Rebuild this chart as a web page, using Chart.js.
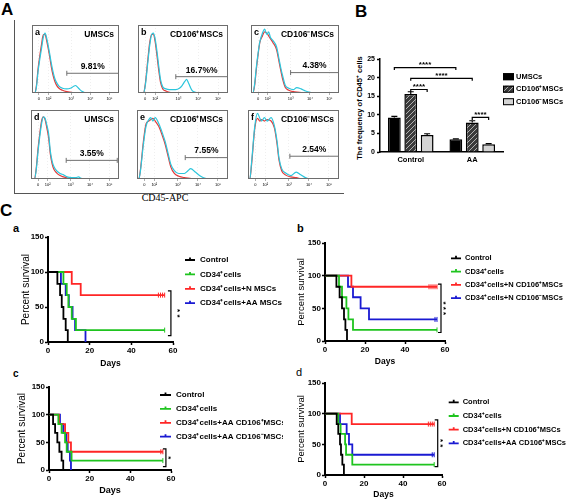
<!DOCTYPE html>
<html lang="en">
<head>
<meta charset="UTF-8">
<meta name="viewport" content="width=device-width, initial-scale=1.0">
<title>CD45 expression and survival</title>
<script src="https://cdn.jsdelivr.net/npm/chart.js"></script>
<style>
  body { margin: 0; background: #fff; }
  #page { position: relative; width: 566px; height: 499px; overflow: hidden; background: #fff;
          font-family: Arial, "Liberation Sans", sans-serif; color: #000; }
  #page canvas { position: absolute; }
  .lbl { position: absolute; line-height: 1; white-space: nowrap; font-weight: bold; }
  .panel { font-size: 17px; }
  .sub { font-size: 11px; }
  #frameA { position: absolute; left: 14px; top: 20px; width: 329px; height: 173px;
            border-left: 1px solid #555; border-bottom: 1px solid #555; }
  #apc { position: absolute; left: 165px; top: 192px; transform: translateX(-50%); line-height: 1;
         font: 10px "Liberation Serif", "Times New Roman", serif; white-space: nowrap; }
  #freqTitle { position: absolute; left: 360px; top: 108px; line-height: 1;
               transform: translate(-50%, -50%) rotate(-90deg);
               font-size: 7.5px; font-weight: bold; white-space: nowrap; }
</style>
</head>
<body>
<div id="page">
  <div class="lbl panel" style="left:1px;top:1px">A</div>
  <div class="lbl panel" style="left:355px;top:3px">B</div>
  <div class="lbl panel" style="left:0px;top:202px">C</div>
  <div class="lbl sub" style="left:13px;top:223px">a</div>
  <div class="lbl sub" style="left:297px;top:223px">b</div>
  <div class="lbl sub" style="left:13px;top:369px;font-size:10px">c</div>
  <div class="lbl sub" style="left:296px;top:367px;font-weight:normal">d</div>
  <div id="frameA"></div>
  <div id="apc">CD45-APC</div>
  <div id="freqTitle">The frequency of CD45⁺ cells</div>
</div>

<script>
// ---------- A: flow histograms (x = % of plot width, y = % of plot height) ----------
const histTickPos = [8, 19, 45, 67, 89];
const histTickLabels = ['0', '10²', '10³', '10⁴', '10⁵'];
const histLetters = ['a', 'b', 'c', 'd', 'e', 'f'];
const histNames = ['UMSCs', 'CD106⁺MSCs', 'CD106⁻MSCs', 'UMSCs', 'CD106⁺MSCs', 'CD106⁻MSCs'];
const histPercents = ['9.81%', '16.7%%', '4.38%', '3.55%', '7.55%', '2.54%'];
const histGates = [[40, 99.5, 29], [42, 99.5, 24], [45, 99.5, 30], [40, 98, 27], [53, 99.5, 31], [46, 99.5, 33]];

const cyanA = [[0,0],[3,0],[5,8],[7,32],[9,50],[11,66],[13,82],[15,88],[17,80],[20,60],[22,45],[24,32],[26,22],[28,16],[31,10],[35,7],[40,6],[44,7],[48,10],[50,11],[52,9],[55,5],[58,2],[62,0],[100,0]];
const redA  = [[0,0],[3,0],[5,10],[7,36],[9,55],[11,72],[13,86],[15,86],[17,76],[20,56],[22,40],[24,27],[26,18],[28,12],[31,7],[35,4],[40,2],[45,1],[50,0],[100,0]];
const cyanB = [[0,0],[6,0],[8,10],[11,46],[13,70],[15,85],[17,88],[19,80],[21,62],[23,40],[25,20],[27.5,9],[31,6],[35,5],[42,5],[46,7],[49,11],[52,17],[54,20],[56,15],[58,9],[60,4],[64,1],[68,0],[100,0]];
const redB  = [[0,0],[6,0],[8,12],[11,50],[13,74],[15,86],[17,86],[19,76],[21,56],[23,34],[25,16],[27.5,6],[31,3],[35,1],[40,0],[100,0]];
const cyanC = [[0,0],[2,0],[4,12],[6,37],[8,58],[10,75],[13,88],[15.5,94],[18,86],[20,90],[22,82],[25,77],[29,68],[32,49],[34,36],[36,25],[39,11],[43,7],[48,5],[52,8],[57,6],[62,3],[67,1],[72,0],[100,0]];
const redC  = [[0,0],[2,0],[4,10],[6,34],[8,56],[10,74],[13,84],[15.5,90],[18,88],[20,84],[22,80],[25,74],[29,64],[32,45],[34,32],[36,20],[39,8],[43,4],[48,2],[55,1],[60,0],[100,0]];
const cyanD = [[0,0],[4,0],[6,14],[8,40],[10,62],[12,80],[14,90],[16,88],[18,78],[20,66],[22,40],[24,26],[26,18],[29,12],[33,8],[37,6],[41,3],[46,2],[51,2],[54,3],[57,1],[61,0],[100,0]];
const redD  = [[0,0],[4,0],[6,16],[8,44],[10,66],[12,84],[14,90],[16,86],[18,74],[20,60],[22,36],[24,22],[26,14],[29,9],[33,5],[37,3],[42,1],[47,0],[100,0]];
const cyanE = [[0,0],[2,0],[4,14],[7,50],[10,77],[13,86],[15,89],[17.5,84],[20,89],[24,80],[27.5,68],[31,54],[34,38],[37,22],[41,12],[46,8],[52,8],[56,12],[59,15],[64,10],[70,4],[75,1],[80,0],[100,0]];
const redE  = [[0,0],[2,0],[4,16],[7,54],[10,80],[13,84],[15,86],[17.5,88],[20,84],[24,76],[27.5,64],[31,50],[34,34],[37,18],[41,8],[46,4],[52,2],[58,1],[64,0],[100,0]];
const cyanF = [[0,0],[2,0],[4,25],[7.5,77],[10.4,95],[13,88],[15,84],[18,89],[21,84],[25.4,89],[29,77],[32,54],[34,31],[37,15],[41,9],[47,5],[53,10],[58,6],[63,2],[68,0],[100,0]];
const redF  = [[0,0],[2,0],[4,22],[7.5,74],[10.4,88],[13,84],[15,86],[18,84],[21,86],[25.4,84],[29,74],[32,50],[34,28],[37,12],[41,6],[47,3],[53,2],[60,0],[100,0]];

// ---------- B: frequency of CD45+ cells ----------
const groups = ['Control', 'AA'];
const cellTypes = ['UMSCs', 'CD106⁺MSCs', 'CD106⁻MSCs'];
const freqMean = [[9.3, 3.4], [15.6, 7.9], [4.6, 2.1]];
const freqSem = [[0.3, 0.15], [0.6, 0.5], [0.3, 0.15]];
// [dataset, group, dataset, group, height]
const sigPairs = [[0, 0, 0, 1, 22.7], [1, 0, 1, 1, 19.8], [1, 0, 2, 0, 16.8], [1, 1, 2, 1, 9.3]];

// ---------- C: survival curves, [day, percent] ----------
const kmDayTicks = [0, 20, 40, 60];
const kmPctTicks = [0, 50, 100, 150];

const labelsA = ['Control', 'CD34⁺cells', 'CD34⁺cells+N MSCs', 'CD34⁺cells+AA MSCs'];
const aControl = [[0,100],[4.5,83],[5.8,67],[6.6,50],[7.4,33],[8.5,17],[9.5,0]];
const aCd34 = [[0,100],[7.4,83],[9,67],[9.8,50],[11.4,33],[13.4,17],[56,17]];
const aNmsc = [[0,100],[11.4,83],[15.7,67],[56,67]];
const aAAmsc = [[0,100],[6.2,83],[8.5,67],[10,50],[11.8,33],[13,17],[18,0]];
const aCd34Cens = [56];
const aNmscCens = [53, 54, 55, 56];
const aBracket = [59, 73, 9];

const labelsB = ['Control', 'CD34⁺cells', 'CD34⁺cells+N CD106⁺MSCs', 'CD34⁺cells+N CD106⁻MSCs'];
const bControl = [[0,100],[5.7,83],[7.3,67],[8.5,50],[9.5,33],[10.2,17],[11,0]];
const bCd34 = [[0,100],[7,83],[8.5,67],[10.7,50],[11.7,33],[14,17],[56,17]];
const bPos = [[0,100],[13.2,83],[56,83]];
const bNeg = [[0,100],[11.5,83],[14,67],[17.8,50],[22,33],[56,33]];
const bCd34Cens = [56];
const bPosCens = [52, 53, 54, 55, 56];
const bNegCens = [55, 56];
const bBracket = [58, 87, 13];

const labelsC = ['Control', 'CD34⁺cells', 'CD34⁺cells+AA CD106⁺MSCs', 'CD34⁺cells+AA CD106⁻MSCs'];
const cControl = [[0,100],[2,83],[3,67],[4.1,50],[5.1,33],[6.2,17],[7,0]];
const cCd34 = [[0,100],[4.6,83],[6.2,67],[7.9,50],[8.7,33],[11.1,17],[56,17]];
const cPos = [[0,100],[4.9,83],[7.9,67],[9.5,50],[10.8,33],[56,33]];
const cNeg = [[0,100],[5.4,83],[7,67],[8.5,50],[9.2,33],[10.3,17],[10.8,0]];
const cCd34Cens = [56];
const cPosCens = [55, 56];
const cBracket = [57.5, 38, 6];

const labelsD = ['Control', 'CD34⁺cells', 'CD34⁺cells+N CD106⁺MSCs', 'CD34⁺cells+AA CD106⁺MSCs'];
const dControl = [[0,100],[6,83],[6.8,67],[7.7,50],[8.2,33],[8.9,17],[9.7,0]];
const dCd34 = [[0,100],[6.8,83],[8,67],[10.3,50],[10.8,33],[14,17],[56,17]];
const dNPos = [[0,100],[13.7,83],[56,83]];
const dAAPos = [[0,100],[7.7,83],[11.1,67],[12.3,50],[14,33],[56,33]];
const dCd34Cens = [56];
const dNPosCens = [53, 54, 55, 56];
const dAAPosCens = [55, 56];
const dBracket = [57.8, 90, 13.5];

const kmSeries = [[aControl, aCd34, aNmsc, aAAmsc], [bControl, bCd34, bPos, bNeg],
                  [cControl, cCd34, cPos, cNeg], [dControl, dCd34, dNPos, dAAPos]];
const kmCensor = [[[], aCd34Cens, aNmscCens, []], [[], bCd34Cens, bPosCens, bNegCens],
                  [[], cCd34Cens, cPosCens, []], [[], dCd34Cens, dNPosCens, dAAPosCens]];
const kmLabels = [labelsA, labelsB, labelsC, labelsD];
const kmBrackets = [aBracket, bBracket, cBracket, dBracket];
const kmStars = ['* *', '* * *', '*', '* *'];

// ---------- styles / layout ----------
const FONT = 'Arial, "Liberation Sans", sans-serif';
Chart.defaults.font.family = FONT;
Chart.defaults.color = '#000';
Chart.defaults.animation = false;
Chart.defaults.events = [];
Chart.defaults.plugins.legend.display = false;
Chart.defaults.plugins.tooltip.enabled = false;

const kmColors = ['#000000', '#1fc41f', '#ff2626', '#1a1ad2'];
const histBoxes = [[32, 22, 89, 71], [138, 22, 92, 71], [251, 22, 90, 71],
                   [31, 107, 90, 72], [137, 107, 93, 72], [248, 107, 93, 72]];
const histCyan = [cyanA, cyanB, cyanC, cyanD, cyanE, cyanF];
const histRed = [redA, redB, redC, redD, redE, redF];

const kmLayouts = [
  { axisX: 48, top: 237, w: 125, h: 105, edge: 283, pctSize: 10, pctPad: 12, daysSize: 8.5, daysPad: 3,
    legend: { dx: 12, dy: 23, step: 14.4, len: 10, gap: 5, font: 'bold 8px ' + FONT }, starGap: 9 },
  { axisX: 325, top: 243, w: 120, h: 98, edge: 566, pctSize: 9.5, pctPad: 11, daysSize: 8.5, daysPad: 4.2,
    legend: { dx: 6, dy: 15.3, step: 13.3, len: 10, gap: 4, font: 'bold 7.5px ' + FONT }, starGap: 4.5 },
  { axisX: 49, top: 387, w: 122, h: 83, edge: 283, pctSize: 10, pctPad: 7.5, daysSize: 9, daysPad: 3.9,
    legend: { dx: -11, dy: 8, step: 13.9, len: 11, gap: 5, font: 'bold 8px ' + FONT }, starGap: 4.5 },
  { axisX: 325, top: 383, w: 117, h: 92, edge: 566, pctSize: 9.5, pctPad: 10.3, daysSize: 8.5, daysPad: 4.9,
    legend: { dx: 6.7, dy: 19.3, step: 13.7, len: 10, gap: 4, font: 'bold 7.5px ' + FONT }, starGap: 5 }
];

function makeCanvas(left, top, w, h) {
  const c = document.createElement('canvas');
  c.width = w; c.height = h;
  c.style.left = left + 'px';
  c.style.top = top + 'px';
  document.getElementById('page').appendChild(c);
  return c;
}
const toXY = arr => arr.map(p => ({ x: p[0], y: p[1] }));

// frame + labels of one histogram
const histFrame = {
  id: 'histFrame',
  afterDraw(chart, args, o) {
    const { ctx, chartArea: a } = chart;
    const xs = chart.scales.x, ys = chart.scales.y;
    ctx.save();
    ctx.strokeStyle = '#6d6d6d';
    ctx.lineWidth = 1;
    ctx.strokeRect(a.left + 0.5, a.top + 0.5, a.width - 1, a.height - 1);
    ctx.fillStyle = '#000';
    ctx.textBaseline = 'middle';
    ctx.font = 'bold 9px ' + FONT;
    ctx.textAlign = 'left';
    ctx.fillText(o.letter, a.left + 3, a.top + 8);
    ctx.font = 'bold 8.5px ' + FONT;
    ctx.textAlign = 'right';
    ctx.fillText(o.name, a.right - 5, a.top + 9.5);
    ctx.textAlign = 'center';
    ctx.fillText(o.pct, xs.getPixelForValue((o.gate[0] + o.gate[1]) / 2), ys.getPixelForValue(o.gate[2]) - 6.5);
    ctx.restore();
  }
};

// legend drawn at the right of the plot area
const sideLegend = {
  id: 'sideLegend',
  afterDraw(chart, args, o) {
    const { ctx, chartArea: a } = chart;
    ctx.save();
    ctx.font = o.font;
    ctx.textBaseline = 'middle';
    ctx.textAlign = 'left';
    chart.data.datasets.forEach((ds, i) => {
      const x = a.right + o.dx, y = a.top + o.dy + i * o.step;
      if (o.box) {
        ctx.fillStyle = ds.backgroundColor;
        ctx.fillRect(x, y - 3.5, 11, 7);
        ctx.strokeStyle = '#000';
        ctx.lineWidth = 1;
        ctx.strokeRect(x + 0.5, y - 3, 10, 6);
      } else {
        ctx.strokeStyle = ds.borderColor;
        ctx.lineWidth = 1.8;
        ctx.beginPath();
        ctx.moveTo(x, y); ctx.lineTo(x + o.len, y);
        ctx.moveTo(x + o.len / 2, y - 2.5); ctx.lineTo(x + o.len / 2, y);
        ctx.stroke();
      }
      ctx.fillStyle = '#000';
      ctx.fillText(ds.label, x + o.len + o.gap, y);
    });
    ctx.restore();
  }
};

// significance bracket for survival panels
const sigBracket = {
  id: 'sigBracket',
  afterDatasetsDraw(chart, args, o) {
    const { ctx } = chart, xs = chart.scales.x, ys = chart.scales.y;
    const x = xs.getPixelForValue(o.at[0]);
    const y1 = ys.getPixelForValue(o.at[1]), y2 = ys.getPixelForValue(o.at[2]);
    ctx.save();
    ctx.strokeStyle = '#000';
    ctx.lineWidth = 1.2;
    ctx.beginPath();
    ctx.moveTo(x - 3, y1); ctx.lineTo(x, y1); ctx.lineTo(x, y2); ctx.lineTo(x - 3, y2);
    ctx.stroke();
    ctx.translate(x + o.gap - 4.6, (y1 + y2) / 2);
    ctx.rotate(Math.PI / 2);
    ctx.font = 'bold 8px ' + FONT;
    ctx.fillStyle = '#000';
    ctx.textAlign = 'center';
    ctx.fillText(o.text, 0, 0);
    ctx.restore();
  }
};

// error bars + significance brackets for panel B
const barExtras = {
  id: 'barExtras',
  afterDatasetsDraw(chart) {
    const { ctx } = chart, ys = chart.scales.y;
    ctx.save();
    ctx.strokeStyle = '#000';
    ctx.lineWidth = 1.2;
    chart.data.datasets.forEach((ds, i) => {
      chart.getDatasetMeta(i).data.forEach((bar, j) => {
        const y0 = ys.getPixelForValue(ds.data[j]);
        const yTop = ys.getPixelForValue(ds.data[j] + freqSem[i][j]);
        ctx.beginPath();
        ctx.moveTo(bar.x, y0); ctx.lineTo(bar.x, yTop);
        ctx.moveTo(bar.x - 3, yTop); ctx.lineTo(bar.x + 3, yTop);
        ctx.stroke();
      });
    });
    ctx.font = 'bold 8px ' + FONT;
    ctx.fillStyle = '#000';
    ctx.textAlign = 'center';
    sigPairs.forEach(s => {
      const xa = chart.getDatasetMeta(s[0]).data[s[1]].x;
      const xb = chart.getDatasetMeta(s[2]).data[s[3]].x;
      const y = ys.getPixelForValue(s[4]);
      ctx.beginPath();
      ctx.moveTo(xa, y + 2.5); ctx.lineTo(xa, y); ctx.lineTo(xb, y); ctx.lineTo(xb, y + 2.5);
      ctx.stroke();
      ctx.fillText('****', (xa + xb) / 2, y - 0.5);
    });
    ctx.restore();
  }
};

// ---------- A ----------
histBoxes.forEach((b, i) => {
  const yW = 8, xH = 9, padT = 2, padR = 3;
  const cv = makeCanvas(b[0] - yW, b[1] - padT, b[2] + yW + padR, b[3] + padT + xH);
  const g = histGates[i];
  new Chart(cv, {
    type: 'line',
    data: {
      datasets: [
        { data: toXY(histCyan[i]), borderColor: '#2cc6dc', borderWidth: 1.2, pointRadius: 0, cubicInterpolationMode: 'monotone' },
        { data: toXY(histRed[i]), borderColor: '#e23a3a', borderWidth: 1.2, pointRadius: 0, cubicInterpolationMode: 'monotone' },
        { data: [{ x: g[0], y: g[2] }, { x: g[1], y: g[2] }], borderColor: '#707070', borderWidth: 1,
          pointStyle: 'line', rotation: 90, pointRadius: 2.5, pointBorderColor: '#707070', pointBorderWidth: 1 }
      ]
    },
    options: {
      responsive: false,
      layout: { padding: { top: padT, right: padR, left: 0, bottom: 0 } },
      scales: {
        x: {
          type: 'linear', min: 0, max: 100,
          afterBuildTicks: s => { s.ticks = histTickPos.map(v => ({ value: v })); },
          ticks: { font: { size: 4 }, padding: 1, maxRotation: 0, autoSkip: false, callback: (v, k) => histTickLabels[k] },
          grid: { color: '#e4e4e4', lineWidth: 0.6, tickLength: 2, tickColor: '#777' },
          border: { display: false, dash: [1, 2] },
          afterFit: s => { s.height = xH; }
        },
        y: {
          min: 0, max: 100,
          afterBuildTicks: s => { s.ticks = [{ value: 0 }]; },
          ticks: { font: { size: 4 }, padding: 1 },
          grid: { display: false },
          border: { display: false },
          afterFit: s => { s.width = yW; }
        }
      },
      plugins: { histFrame: { letter: histLetters[i], name: histNames[i], pct: histPercents[i], gate: g } }
    },
    plugins: [histFrame]
  });
});

// ---------- B ----------
(function () {
  const yW = 26, xH = 14, padT = 8, padR = 63;
  const cv = makeCanvas(354, 51, 212, padT + 93 + xH);
  const hatch = (() => {
    const c = document.createElement('canvas');
    c.width = 5; c.height = 5;
    const g = c.getContext('2d');
    g.fillStyle = '#3a3a3a'; g.fillRect(0, 0, 5, 5);
    g.strokeStyle = '#b0b0b0'; g.lineWidth = 1;
    g.beginPath();
    g.moveTo(-1, 6); g.lineTo(6, -1);
    g.moveTo(-1, 1); g.lineTo(1, -1);
    g.moveTo(4, 6); g.lineTo(6, 4);
    g.stroke();
    return g.createPattern(c, 'repeat');
  })();
  const fills = ['#000000', hatch, '#d4d4d4'];
  new Chart(cv, {
    type: 'bar',
    data: {
      labels: groups,
      datasets: cellTypes.map((name, i) => ({
        label: name, data: freqMean[i], backgroundColor: fills[i], borderColor: '#000', borderWidth: 1.5,
        categoryPercentage: 0.8, barPercentage: 0.78
      }))
    },
    options: {
      responsive: false,
      layout: { padding: { top: padT, right: padR, left: 0, bottom: 0 } },
      scales: {
        x: {
          grid: { display: false, drawTicks: false },
          border: { color: '#000', width: 1.5 },
          ticks: { font: { size: 7.5, weight: 'bold' }, padding: 3 },
          afterFit: s => { s.height = xH; }
        },
        y: {
          min: 0, max: 25,
          ticks: { stepSize: 5, font: { size: 7, weight: 'bold' }, padding: 2 },
          grid: { drawOnChartArea: false, tickLength: 3, tickColor: '#000', tickWidth: 1.5 },
          border: { color: '#000', width: 1.5 },
          afterFit: s => { s.width = yW; }
        }
      },
      plugins: { sideLegend: { box: true, dx: 0, dy: 17.7, step: 12.5, len: 11, gap: 2, font: 'bold 7.5px ' + FONT } }
    },
    plugins: [barExtras, sideLegend]
  });
})();

// ---------- C ----------
function kmPoints(steps, cens) {
  const last = steps[steps.length - 1][1];
  const pts = steps.map(p => ({ x: p[0], y: p[1] }));
  cens.forEach(d => pts.push({ x: d, y: last, c: true }));
  return pts.sort((p, q) => p.x - q.x);
}

kmLayouts.forEach((L, k) => {
  const yW = 40, xH = 30, padT = 8;
  const cw = L.edge - (L.axisX - yW);
  const cv = makeCanvas(L.axisX - yW, L.top - padT, cw, padT + L.h + xH);
  new Chart(cv, {
    type: 'line',
    data: {
      datasets: kmSeries[k].map((s, i) => ({
        label: kmLabels[k][i],
        data: kmPoints(s, kmCensor[k][i]),
        borderColor: kmColors[i], borderWidth: 1.8, stepped: true, fill: false,
        pointStyle: 'line', rotation: 90, pointBorderColor: kmColors[i], pointBorderWidth: 1,
        pointRadius: c => (c.raw && c.raw.c ? 2.5 : 0)
      }))
    },
    options: {
      responsive: false,
      layout: { padding: { top: padT, right: cw - yW - L.w, left: 0, bottom: 0 } },
      scales: {
        x: {
          type: 'linear', min: 0, max: 60,
          afterBuildTicks: s => { s.ticks = kmDayTicks.map(v => ({ value: v })); },
          ticks: { font: { size: 8, weight: 'bold' }, padding: 1, maxRotation: 0 },
          grid: { drawOnChartArea: false, tickLength: 3, tickColor: '#000', tickWidth: 1.5 },
          border: { color: '#000', width: 2 },
          title: { display: true, text: 'Days', font: { size: L.daysSize, weight: 'bold' }, padding: { top: 0, bottom: L.daysPad } },
          afterFit: s => { s.height = xH; }
        },
        y: {
          min: 0, max: 150,
          afterBuildTicks: s => { s.ticks = kmPctTicks.map(v => ({ value: v })); },
          ticks: { font: { size: 8, weight: 'bold' }, padding: 1 },
          grid: { drawOnChartArea: false, tickLength: 3, tickColor: '#000', tickWidth: 1.5 },
          border: { color: '#000', width: 2 },
          title: { display: true, text: 'Percent survival', font: { size: L.pctSize }, padding: { top: L.pctPad, bottom: 0 } },
          afterFit: s => { s.width = yW; }
        }
      },
      plugins: {
        sideLegend: L.legend,
        sigBracket: { at: kmBrackets[k], text: kmStars[k], gap: L.starGap }
      }
    },
    plugins: [sideLegend, sigBracket]
  });
});
</script>
</body>
</html>
